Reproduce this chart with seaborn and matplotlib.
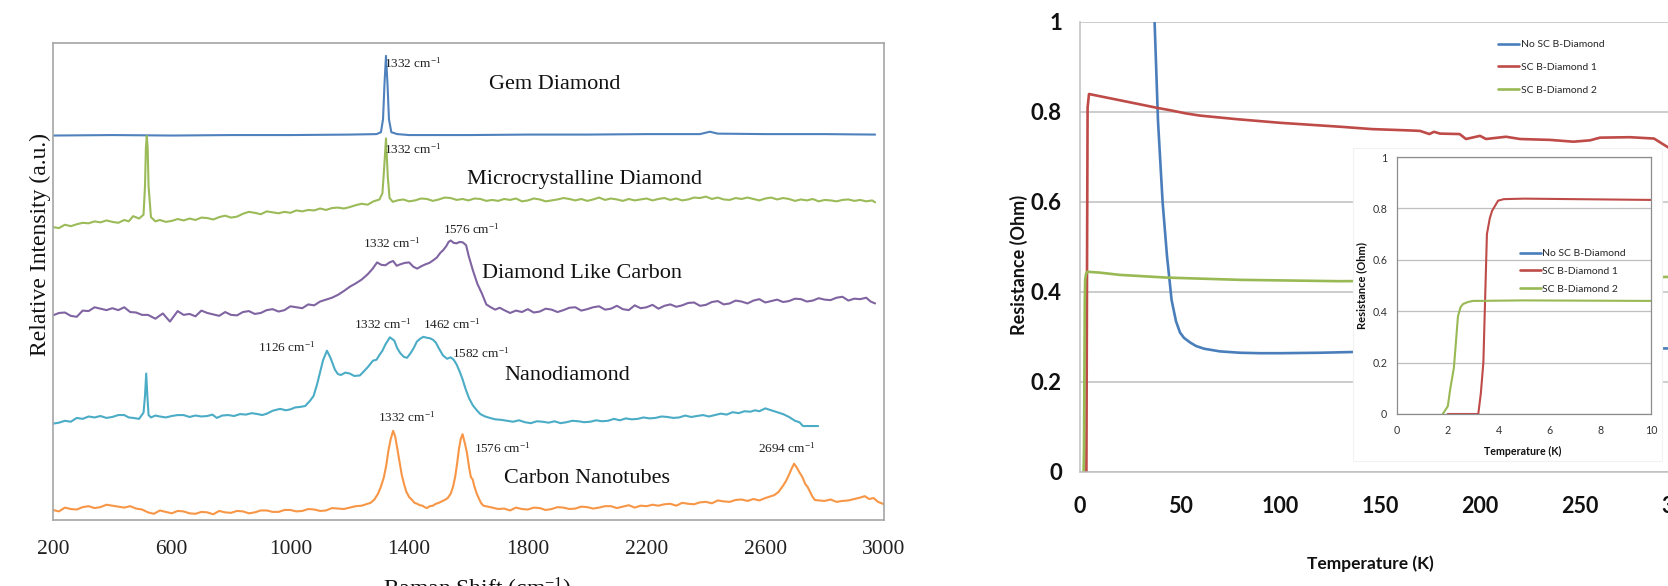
import matplotlib
matplotlib.use("Agg")
import matplotlib.pyplot as plt
import seaborn as sns
import pandas as pd
from matplotlib.lines import Line2D
from matplotlib.patches import Rectangle

# ---------------- data: Raman spectra (left) ----------------
gem_x = [200, 400, 600, 800, 1000, 1200, 1290, 1305, 1312, 1317, 1322, 1327, 1332, 1340, 1360, 1400,
         1600, 1800, 2000, 2200, 2380, 2413, 2440, 2600, 2800, 2970]
gem_y = [80.6, 80.7, 80.6, 80.7, 80.7, 80.8, 80.9, 81.3, 84.0, 91.5, 97.3, 91.5, 84.0, 81.3, 80.9, 80.7,
         80.7, 80.8, 80.8, 80.9, 80.9, 81.4, 81.0, 80.9, 80.9, 80.8]

mcd_x = [200, 220, 240, 260, 280, 300, 320, 340, 360, 380, 400, 420, 440, 455, 470, 490, 505, 510, 513,
         516, 519, 522, 530, 545, 560, 580, 600, 620, 640, 660, 680, 700, 720, 740, 760, 780, 800, 820,
         840, 860, 880, 900, 920, 940, 960, 980, 1000, 1020, 1040, 1060, 1080, 1100, 1120, 1140, 1160,
         1180, 1200, 1220, 1240, 1260, 1280, 1300, 1310, 1316, 1322, 1328, 1334, 1345, 1360, 1380, 1400,
         1420, 1440, 1460, 1480, 1500, 1520, 1540, 1560, 1580, 1600, 1620, 1640, 1660, 1680, 1700, 1720,
         1740, 1760, 1780, 1800, 1820, 1840, 1860, 1880, 1900, 1920, 1940, 1960, 1980, 2000, 2020, 2040,
         2060, 2080, 2100, 2120, 2140, 2160, 2180, 2200, 2220, 2240, 2260, 2280, 2300, 2320, 2340, 2360,
         2380, 2400, 2420, 2440, 2460, 2480, 2500, 2520, 2540, 2560, 2580, 2600, 2620, 2640, 2660, 2680,
         2700, 2720, 2740, 2760, 2780, 2800, 2820, 2840, 2860, 2880, 2900, 2920, 2940, 2960, 2970]
mcd_y = [61.4, 61.2, 61.9, 61.6, 62.0, 62.3, 62.2, 62.6, 62.4, 62.8, 62.5, 62.3, 62.9, 62.6, 63.7, 63.2,
         64.0, 70.0, 78.0, 80.5, 78.0, 70.0, 63.5, 62.6, 62.9, 62.5, 62.7, 63.1, 62.8, 63.2, 62.9, 63.4,
         63.3, 63.0, 63.5, 63.8, 63.4, 63.6, 64.2, 64.6, 64.4, 64.1, 64.7, 64.5, 64.3, 64.6, 64.4, 64.9,
         64.7, 65.0, 64.9, 65.3, 65.0, 65.4, 65.5, 65.3, 65.6, 66.0, 66.3, 66.1, 66.8, 67.2, 68.5, 74.0,
         80.0, 72.0, 67.5, 66.7, 67.0, 67.2, 66.8, 67.0, 67.4, 67.3, 66.9, 67.2, 67.6, 67.5, 67.1, 67.3,
         67.0, 67.4, 67.3, 66.9, 67.1, 66.9, 67.3, 67.1, 67.4, 66.8, 67.0, 67.4, 67.2, 66.8, 67.0, 67.2,
         67.5, 67.3, 67.0, 67.3, 66.9, 67.2, 67.6, 67.1, 67.4, 67.2, 66.9, 67.3, 67.0, 67.2, 67.4, 67.0,
         67.3, 67.5, 67.1, 67.4, 67.0, 67.2, 67.6, 67.5, 67.8, 67.3, 67.6, 67.2, 67.1, 67.5, 67.3, 67.6,
         67.3, 67.0, 67.4, 67.6, 67.2, 67.5, 67.3, 66.9, 67.2, 67.0, 67.3, 66.8, 67.1, 67.0, 66.8, 67.1,
         67.2, 66.9, 67.1, 66.8, 67.0, 66.6]

dlc_x = [200, 220, 240, 260, 280, 300, 320, 340, 360, 380, 400, 420, 440, 460, 480, 500, 520, 545, 570,
         594, 620, 640, 660, 680, 700, 720, 740, 760, 780, 800, 820, 840, 860, 880, 900, 920, 940, 960,
         980, 1000, 1020, 1040, 1060, 1080, 1100, 1120, 1140, 1160, 1180, 1200, 1220, 1240, 1260, 1276,
         1292, 1306, 1320, 1334, 1346, 1358, 1370, 1385, 1400, 1414, 1427, 1441, 1455, 1468, 1480, 1493,
         1505, 1515, 1525, 1533, 1540, 1550, 1560, 1570, 1581, 1592, 1600, 1615, 1630, 1645, 1660, 1675,
         1690, 1705, 1720, 1740, 1760, 1780, 1800, 1820, 1840, 1860, 1880, 1900, 1920, 1940, 1960, 1980,
         2000, 2020, 2040, 2060, 2080, 2100, 2120, 2140, 2160, 2180, 2200, 2220, 2240, 2260, 2280, 2300,
         2320, 2340, 2360, 2380, 2400, 2420, 2440, 2460, 2480, 2500, 2520, 2540, 2560, 2580, 2600, 2620,
         2640, 2660, 2680, 2700, 2720, 2740, 2760, 2780, 2800, 2820, 2840, 2860, 2880, 2900, 2920, 2940,
         2955, 2970]
dlc_y = [42.9, 43.4, 43.5, 42.8, 42.6, 43.9, 43.8, 44.6, 44.3, 44.0, 44.4, 44.0, 44.6, 43.6, 43.5, 43.0,
         43.0, 42.2, 43.3, 41.6, 43.8, 43.0, 43.2, 42.7, 43.9, 43.4, 43.1, 42.8, 43.6, 43.0, 42.9, 43.6,
         43.8, 43.2, 43.4, 44.0, 44.2, 43.7, 44.0, 44.8, 44.6, 44.4, 45.2, 45.0, 45.8, 46.2, 46.6, 47.2,
         48.0, 48.9, 49.6, 50.4, 51.5, 52.6, 54.0, 53.5, 53.4, 54.0, 54.3, 53.3, 53.6, 53.9, 54.0, 53.1,
         52.7, 53.2, 53.6, 53.9, 54.4, 55.0, 56.0, 56.6, 57.4, 58.3, 58.6, 58.1, 58.0, 58.3, 58.2, 57.6,
         55.5, 52.3, 49.5, 47.5, 45.2, 44.6, 44.1, 44.5, 44.0, 43.4, 43.9, 43.6, 44.2, 43.5, 43.7, 44.3,
         44.1, 43.6, 44.0, 44.5, 44.6, 43.9, 44.2, 44.6, 44.8, 44.1, 44.3, 44.9, 44.2, 44.0, 45.0, 44.4,
         44.6, 45.1, 44.3, 44.9, 45.2, 44.7, 45.0, 45.5, 45.6, 44.9, 45.1, 45.7, 45.9, 45.2, 45.4, 46.0,
         45.8, 45.4, 46.0, 46.3, 45.6, 45.9, 46.2, 45.7, 45.9, 46.4, 46.3, 45.8, 46.0, 46.5, 46.2, 46.1,
         46.6, 46.8, 46.0, 46.4, 46.3, 46.6, 45.8, 45.4]

nd_x = [200, 220, 240, 260, 280, 300, 320, 340, 360, 380, 400, 420, 440, 455, 470, 490, 505, 510, 514,
        518, 522, 530, 545, 560, 580, 600, 620, 640, 660, 680, 700, 720, 737, 752, 770, 790, 810, 830,
        850, 870, 890, 905, 921, 940, 965, 985, 1000, 1016, 1032, 1050, 1066, 1078, 1090, 1100, 1110,
        1123, 1135, 1150, 1160, 1170, 1185, 1200, 1215, 1234, 1248, 1260, 1278, 1290, 1300, 1310, 1320,
        1335, 1350, 1360, 1370, 1382, 1393, 1405, 1415, 1426, 1437, 1448, 1460, 1470, 1480, 1490, 1500,
        1514, 1528, 1540, 1550, 1560, 1571, 1580, 1590, 1602, 1615, 1628, 1640, 1656, 1672, 1690, 1710,
        1730, 1750, 1770, 1790, 1810, 1830, 1850, 1870, 1890, 1910, 1930, 1950, 1970, 1990, 2010, 2030,
        2050, 2070, 2090, 2110, 2130, 2150, 2170, 2190, 2210, 2230, 2250, 2270, 2290, 2310, 2330, 2350,
        2370, 2390, 2410, 2430, 2450, 2470, 2490, 2510, 2530, 2550, 2565, 2580, 2600, 2620, 2640, 2660,
        2680, 2700, 2715, 2727, 2750, 2778]
nd_y = [20.2, 20.4, 20.8, 20.6, 21.4, 21.2, 21.7, 21.5, 21.8, 21.4, 21.6, 22.0, 22.0, 21.5, 21.4, 21.2,
        22.5, 26.0, 30.7, 26.0, 22.0, 21.5, 21.9, 21.7, 21.5, 21.8, 22.0, 22.0, 21.6, 21.9, 21.7, 21.8,
        22.1, 21.4, 21.9, 22.0, 21.8, 22.2, 22.1, 22.4, 22.2, 22.0, 22.3, 22.9, 23.3, 23.0, 23.2, 23.6,
        23.7, 23.9, 25.0, 26.0, 28.5, 31.0, 33.5, 35.5, 34.0, 31.5, 30.6, 30.4, 30.9, 30.7, 30.2, 30.3,
        31.2, 32.0, 33.4, 33.6, 34.6, 35.5, 36.8, 38.3, 37.6, 36.0, 35.0, 34.2, 34.0, 35.0, 36.0, 37.4,
        38.0, 38.4, 38.2, 38.1, 37.8, 37.2, 36.0, 34.5, 33.8, 34.1, 33.6, 32.6, 31.0, 29.5, 27.5, 25.5,
        24.0, 23.0, 22.2, 21.7, 21.4, 21.1, 21.0, 20.8, 20.6, 20.9, 20.5, 20.3, 20.7, 20.6, 20.4, 20.7,
        20.3, 20.5, 20.8, 20.7, 20.5, 20.6, 20.9, 20.7, 20.8, 21.2, 20.9, 21.3, 21.1, 21.2, 21.5, 21.3,
        21.4, 21.7, 21.6, 21.4, 21.5, 21.9, 21.6, 21.8, 22.0, 21.7, 22.0, 22.3, 22.1, 22.6, 22.4, 22.8,
        22.7, 23.0, 22.8, 23.4, 23.0, 22.6, 22.2, 21.6, 20.8, 20.5, 19.7, 19.7, 19.7]

cnt_x = [200, 220, 240, 260, 280, 300, 320, 340, 360, 380, 400, 420, 440, 460, 480, 500, 520, 540, 560,
         580, 600, 620, 640, 660, 680, 700, 720, 740, 760, 780, 800, 820, 840, 860, 880, 900, 920, 940,
         960, 980, 1000, 1020, 1040, 1060, 1080, 1100, 1120, 1140, 1160, 1180, 1200, 1220, 1240, 1255,
         1270, 1283, 1295, 1305, 1315, 1323, 1330, 1338, 1346, 1353, 1360, 1368, 1375, 1383, 1390, 1400,
         1410, 1418, 1427, 1436, 1445, 1452, 1460, 1470, 1480, 1490, 1500, 1510, 1520, 1530, 1540, 1548,
         1555, 1562, 1568, 1574, 1580, 1588, 1595, 1602, 1608, 1614, 1620, 1628, 1635, 1642, 1650, 1665,
         1680, 1700, 1720, 1740, 1760, 1780, 1800, 1820, 1840, 1860, 1880, 1900, 1920, 1940, 1960, 1980,
         2000, 2020, 2040, 2060, 2080, 2100, 2120, 2140, 2160, 2180, 2200, 2220, 2240, 2260, 2280, 2300,
         2320, 2340, 2360, 2380, 2400, 2420, 2440, 2460, 2480, 2500, 2520, 2540, 2560, 2580, 2600, 2615,
         2630, 2645, 2660, 2670, 2680, 2689, 2697, 2706, 2715, 2725, 2735, 2742, 2750, 2758, 2767, 2780,
         2800, 2820, 2840, 2860, 2880, 2900, 2920, 2935, 2950, 2965, 2980, 3000]
cnt_y = [2.1, 1.8, 2.6, 2.3, 2.2, 2.7, 2.9, 2.5, 2.7, 3.2, 3.0, 2.8, 2.6, 2.9, 2.4, 2.2, 1.6, 1.3, 2.0,
         1.7, 1.4, 1.9, 1.8, 1.4, 1.3, 1.7, 1.6, 1.2, 1.9, 1.6, 1.5, 1.9, 1.8, 1.4, 1.6, 2.0, 2.0, 1.7,
         1.7, 2.1, 2.1, 1.8, 1.9, 2.3, 2.2, 1.9, 2.0, 2.5, 2.4, 2.3, 2.6, 2.9, 3.0, 3.3, 3.6, 4.3, 5.5,
         7.0, 9.0, 11.5, 14.5, 17.0, 18.7, 17.5, 15.0, 12.0, 9.5, 7.5, 6.0, 4.8, 4.2, 3.6, 3.4, 3.1, 3.0,
         2.7, 2.5, 2.9, 3.0, 3.4, 3.6, 3.9, 4.2, 4.6, 5.5, 7.0, 9.0, 12.0, 15.0, 17.0, 18.0, 16.0, 14.0,
         11.0, 9.0, 8.5, 7.0, 5.5, 4.5, 3.6, 3.0, 2.8, 2.6, 2.3, 2.4, 2.0, 2.6, 2.3, 2.2, 2.6, 2.5, 2.1,
         2.3, 2.7, 2.6, 2.3, 2.4, 2.8, 2.7, 2.4, 2.6, 2.9, 2.9, 2.5, 2.8, 3.1, 2.6, 3.0, 2.9, 3.2, 3.0,
         3.3, 3.4, 3.0, 3.6, 3.4, 3.3, 3.7, 3.8, 3.5, 4.1, 3.9, 3.8, 4.2, 4.3, 4.0, 4.4, 4.1, 4.6, 4.9,
         5.2, 5.9, 7.2, 8.2, 9.5, 10.8, 11.8, 11.0, 10.0, 9.0, 7.5, 7.0, 6.0, 5.0, 4.2, 4.1, 4.0, 4.3,
         3.8, 4.0, 4.1, 4.4, 4.7, 5.0, 4.4, 4.6, 3.8, 3.3]

spectra_names = ["Gem Diamond", "Microcrystalline Diamond", "Diamond Like Carbon",
                 "Nanodiamond", "Carbon Nanotubes"]
spectra_colors = ["#4F81BD", "#9BBB59", "#8064A2", "#4BACC6", "#F79646"]
name_pos = [(1669, 91.2), (1594, 71.4), (1645, 51.7), (1720, 30.3), (1720, 8.8)]
peak_labels = ["1332", "1332", "1332", "1576", "1126", "1332", "1462", "1582", "1332", "1576", "2694"]
peak_label_pos = [(1316, 95.8), (1316, 77.7), (1244, 58.0), (1515, 60.9), (891, 36.3), (1215, 41.0),
                  (1447, 41.0), (1545, 34.9), (1295, 21.6), (1619, 15.1), (2575, 15.1)]
raman_ticks = [200, 600, 1000, 1400, 1800, 2200, 2600, 3000]

# ---------------- data: resistance (right) ----------------
blue_T = [35, 37.3, 39, 41.3, 43.5, 45.8, 48, 50, 52, 55, 58, 62, 70, 80, 90, 100, 120, 140, 200, 250, 300]
blue_R = [1.15, 1.0, 0.78, 0.6, 0.48, 0.382, 0.335, 0.31, 0.298, 0.288, 0.28, 0.274, 0.268, 0.265,
          0.264, 0.264, 0.265, 0.267, 0.27, 0.272, 0.275]
red_T = [2.0, 3.2, 3.5, 3.8, 4.5, 10, 20, 30, 38.8, 45, 52.8, 60, 78.5, 100, 130.9, 146, 165, 170,
         174.7, 177, 180, 189.8, 193, 197, 200, 203, 213, 220, 235, 246.7, 255, 260, 275, 287, 296, 300]
red_R = [0, 0, 0.44, 0.81, 0.84, 0.835, 0.826, 0.817, 0.809, 0.804, 0.797, 0.792, 0.784, 0.776, 0.767,
         0.762, 0.759, 0.758, 0.751, 0.756, 0.752, 0.751, 0.740, 0.744, 0.747, 0.740, 0.745, 0.740,
         0.738, 0.734, 0.737, 0.743, 0.744, 0.741, 0.716, 0.70]
green_T = [1.8, 2.0, 2.4, 2.6, 3.0, 3.6, 10, 20, 43.5, 80, 130, 200, 250, 300]
green_R = [0, 0.05, 0.38, 0.428, 0.44, 0.445, 0.443, 0.438, 0.432, 0.427, 0.424, 0.426, 0.43, 0.434]

ins_red_T = [2.0, 3.2, 3.3, 3.4, 3.54, 3.65, 3.74, 3.98, 4.2, 5.0, 7.0, 10.0]
ins_red_R = [0, 0, 0.08, 0.2, 0.70, 0.76, 0.79, 0.83, 0.836, 0.838, 0.836, 0.833]
ins_green_T = [1.8, 2.0, 2.1, 2.24, 2.4, 2.5, 2.6, 2.8, 3.0, 5.0, 10.0]
ins_green_R = [0, 0.03, 0.1, 0.18, 0.38, 0.415, 0.428, 0.436, 0.44, 0.442, 0.44]

series_names = ["No SC B-Diamond", "SC B-Diamond 1", "SC B-Diamond 2"]
series_colors = ["#4A7EBB", "#BE4B48", "#98B954"]
main_xticks = [0, 50, 100, 150, 200, 250, 300]
main_yticks = [0, 0.2, 0.4, 0.6, 0.8, 1]
ins_xticks = [0, 2, 4, 6, 8, 10]
ins_yticks = [0, 0.2, 0.4, 0.6, 0.8, 1]

# ---------------- figure ----------------
sns.set_style("white")
plt.rcParams["mathtext.fontset"] = "custom"
plt.rcParams["mathtext.rm"] = "Liberation Serif"
plt.rcParams["mathtext.default"] = "regular"

W, H = 1668, 586
fig = plt.figure(figsize=(W / 100, H / 100), dpi=100)


def fx(px):
    return px / W


def fy(py):
    return 1 - py / H


SERIF = "Liberation Serif"
SANS = "Lato"

# ---- left: Raman spectra ----
axL = fig.add_axes([fx(53), fy(520), fx(884 - 53), (520 - 43) / H])
spectra = [(gem_x, gem_y), (mcd_x, mcd_y), (dlc_x, dlc_y), (nd_x, nd_y), (cnt_x, cnt_y)]
for (xs, ys), c in zip(spectra, spectra_colors):
    df = pd.DataFrame({"x": xs, "y": ys})
    sns.lineplot(data=df, x="x", y="y", ax=axL, color=c, linewidth=1.5, estimator=None, sort=False)
axL.set_xlim(200, 3000)
axL.set_ylim(0, 100)
axL.set_xticks(raman_ticks)
axL.set_xticklabels([str(t) for t in raman_ticks], fontfamily=SERIF, fontsize=15.5)
axL.set_yticks([])
axL.tick_params(axis="x", length=0, pad=14.5, colors="#222222")
axL.set_xlabel("")
axL.set_ylabel("")
for s in axL.spines.values():
    s.set_color("#A6A6A6")
    s.set_linewidth(1.2)
for name, (x, y) in zip(spectra_names, name_pos):
    axL.text(x, y, name, fontfamily=SERIF, fontsize=16, ha="left", va="center", color="#111111")
for lab, (x, y) in zip(peak_labels, peak_label_pos):
    axL.text(x, y, lab + " cm$^{-1}$", fontfamily=SERIF, fontsize=9.5, ha="left", va="center",
             color="#222222")
fig.text(fx(40), fy(245), "Relative Intensity (a.u.)", rotation=90, ha="center", va="center",
         fontfamily=SERIF, fontsize=17, color="#111111")
fig.text(fx(477), fy(576), "Raman Shift (cm$^{-1}$)", ha="center", va="top",
         fontfamily=SERIF, fontsize=17, color="#111111")

# ---- right: main resistance chart ----
axR = fig.add_axes([fx(1080), fy(472), 600 / W, 450 / H])
for T, R, c, n in zip([blue_T, red_T, green_T], [blue_R, red_R, green_R], series_colors, series_names):
    df = pd.DataFrame({"T": T, "R": R})
    sns.lineplot(data=df, x="T", y="R", ax=axR, color=c, linewidth=1.9, estimator=None, sort=False,
                 label=n)
axR.set_xlim(0, 300)
axR.set_ylim(0, 1)
axR.set_xticks(main_xticks)
axR.set_xticklabels([str(t) for t in main_xticks], fontfamily=SANS, fontweight="bold", fontsize=15.5)
axR.set_yticks(main_yticks)
axR.set_yticklabels(["0", "0.2", "0.4", "0.6", "0.8", "1"], fontfamily=SANS, fontweight="bold",
                    fontsize=16)
axR.tick_params(axis="x", length=0, pad=17, colors="#111111")
axR.tick_params(axis="y", length=0, pad=13, colors="#111111")
axR.grid(axis="y", color="#BFBFBF", linewidth=1.1)
axR.set_axisbelow(True)
axR.set_xlabel("")
axR.set_ylabel("")
axR.spines["top"].set_visible(False)
axR.spines["right"].set_visible(False)
axR.spines["left"].set_color("#BFBFBF")
axR.spines["bottom"].set_color("#BFBFBF")
axR.spines["left"].set_linewidth(1.1)
axR.spines["bottom"].set_linewidth(1.1)
axR.legend(loc="upper left", bbox_to_anchor=(fx(1498), fy(40)), bbox_transform=fig.transFigure,
           frameon=False, borderpad=0, borderaxespad=0, handlelength=2.0, handletextpad=0.2,
           labelspacing=1.3, prop={"family": SANS, "size": 7.5})
fig.text(fx(1370), fy(564), "Temperature (K)", ha="center", va="center", fontfamily=SANS,
         fontweight="bold", fontsize=12.5, color="#111111")
fig.text(fx(1019), fy(265), "Resistance (Ohm)", rotation=90, ha="center", va="center",
         fontfamily=SANS, fontweight="bold", fontsize=13, color="#111111")

# ---- inset ----
box = Rectangle((fx(1353), fy(461)), fx(1662 - 1353), (461 - 148) / H, transform=fig.transFigure,
                facecolor="white", edgecolor="#F2F2F2", linewidth=0.8, zorder=1)
fig.patches.append(box)
axI = fig.add_axes([fx(1397), fy(414), 254 / W, 257 / H])
axI.set_zorder(2)
for T, R, c in zip([ins_red_T, ins_green_T], [ins_red_R, ins_green_R], series_colors[1:]):
    df = pd.DataFrame({"T": T, "R": R})
    sns.lineplot(data=df, x="T", y="R", ax=axI, color=c, linewidth=1.5, estimator=None, sort=False)
axI.set_xlim(0, 10)
axI.set_ylim(0, 1)
axI.set_xticks(ins_xticks)
axI.set_xticklabels([str(t) for t in ins_xticks], fontfamily=SANS, fontsize=7.7)
axI.set_yticks(ins_yticks)
axI.set_yticklabels(["0", "0.2", "0.4", "0.6", "0.8", "1"], fontfamily=SANS, fontsize=7.7)
axI.tick_params(axis="x", length=0, pad=8, colors="#333333")
axI.tick_params(axis="y", length=0, pad=7, colors="#333333")
axI.grid(axis="y", color="#BFBFBF", linewidth=0.9)
axI.set_axisbelow(True)
axI.set_xlabel("")
axI.set_ylabel("")
for s in axI.spines.values():
    s.set_color("#8C8C8C")
    s.set_linewidth(0.9)
handles = [Line2D([], [], color=c, linewidth=1.9) for c in series_colors]
axI.legend(handles, series_names, loc="upper left", bbox_to_anchor=(fx(1520), fy(249)),
           bbox_transform=fig.transFigure, frameon=False, borderpad=0, borderaxespad=0,
           handlelength=2.0, handletextpad=0.15, labelspacing=0.8,
           prop={"family": SANS, "size": 7.5})
fig.text(fx(1523), fy(451), "Temperature (K)", ha="center", va="center", fontfamily=SANS,
         fontweight="bold", fontsize=7.7, color="#111111")
fig.text(fx(1362), fy(286), "Resistance (Ohm)", rotation=90, ha="center", va="center",
         fontfamily=SANS, fontweight="bold", fontsize=8, color="#111111")

fig.savefig("out.png", dpi=100)
